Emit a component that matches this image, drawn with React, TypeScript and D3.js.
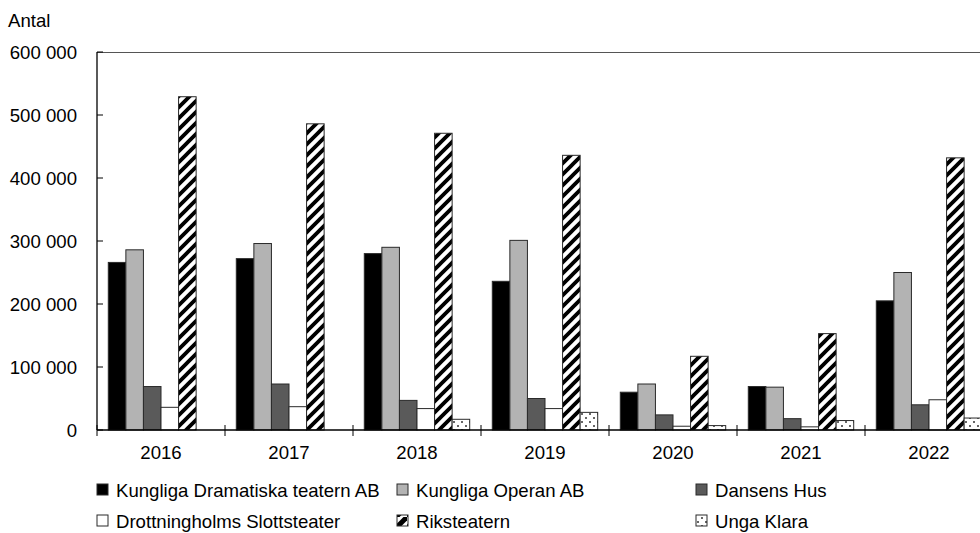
import React from "react";
import * as d3 from "d3";

const years = ["2016", "2017", "2018", "2019", "2020", "2021", "2022"];
const seriesNames = [
  "Kungliga Dramatiska teatern AB",
  "Kungliga Operan AB",
  "Dansens Hus",
  "Drottningholms Slottsteater",
  "Riksteatern",
  "Unga Klara",
];
const dramaten = [266000, 272000, 280000, 236000, 60000, 69000, 205000];
const operan = [286000, 296000, 290000, 301000, 73000, 68000, 250000];
const dansensHus = [69000, 73000, 47000, 50000, 24000, 18000, 40000];
const drottningholm = [36000, 37000, 34000, 34000, 6000, 5000, 48000];
const riksteatern = [529000, 486000, 471000, 436000, 117000, 153000, 432000];
const ungaKlara = [null, null, 17000, 28000, 7000, 15000, 19000];
const yTicks = [0, 100000, 200000, 300000, 400000, 500000, 600000];

const seriesValues = [dramaten, operan, dansensHus, drottningholm, riksteatern, ungaKlara];
const fills = ["#000000", "#b3b3b3", "#5a5a5a", "#ffffff", "url(#stripes)", "url(#dots)"];

const W = 980;
const H = 533;
const left = 97;
const top = 52;
const bottom = 430;
const right = 993;
const FONT = "'Liberation Sans', Arial, sans-serif";
const FS = 18.6;

const locale = d3.formatLocale({ decimal: ",", thousands: " ", grouping: [3], currency: ["", ""] });
const fmt = locale.format(",");

export default function App() {
  const x0 = d3.scaleBand<string>().domain(years).range([left, right]).padding(0);
  const x1 = d3
    .scaleBand<string>()
    .domain(seriesNames)
    .range([0, x0.bandwidth()])
    .paddingInner(0)
    .paddingOuter(0.643);
  const y = d3.scaleLinear().domain([0, 600000]).range([bottom, top]);

  const legendCols = [97, 397, 696];
  const legendRows = [490, 521];

  return (
    <svg
      width={W}
      height={H}
      style={{ position: "absolute", left: 0, top: 0, background: "#fff" }}
      fontFamily={FONT}
    >
      <defs>
        <pattern id="stripes" patternUnits="userSpaceOnUse" width={11} height={11}>
          <rect width={11} height={11} fill="#fff" />
          <path d="M-3,3 L3,-3 M0,11 L11,0 M8,14 L14,8" stroke="#000" strokeWidth={3.8} />
        </pattern>
        <pattern id="dots" patternUnits="userSpaceOnUse" width={8} height={8}>
          <rect width={8} height={8} fill="#fff" />
          <circle cx={2} cy={2} r={1} fill="#333" />
          <circle cx={6} cy={6} r={1} fill="#333" />
        </pattern>
        <pattern id="stripesLegend" patternUnits="userSpaceOnUse" width={11} height={11}>
          <rect width={11} height={11} fill="#fff" />
          <path d="M-2,13 L13,-2" stroke="#000" strokeWidth={5} />
        </pattern>
      </defs>

      <text x={8} y={27} fontSize={FS} fill="#000">Antal</text>

      {/* top border */}
      <line x1={left} x2={right} y1={top + 0.5} y2={top + 0.5} stroke="#555" strokeWidth={1.2} />

      {/* y ticks & labels */}
      {yTicks.map((t) => (
        <g key={t}>
          <line x1={left} x2={left + 6} y1={y(t)} y2={y(t)} stroke="#000" strokeWidth={1} />
          <text x={77} y={y(t)} fontSize={FS} textAnchor="end" dominantBaseline="central" fill="#000">
            {fmt(t)}
          </text>
        </g>
      ))}

      {/* bars */}
      {years.map((yr, i) => (
        <g key={yr}>
          {seriesNames.map((s, j) => {
            const v = seriesValues[j][i];
            if (v == null) return null;
            const bx = (x0(yr) as number) + (x1(s) as number);
            return (
              <rect
                key={s}
                x={bx}
                y={y(v)}
                width={x1.bandwidth()}
                height={bottom - y(v)}
                fill={fills[j]}
                stroke="#2a2a2a"
                strokeWidth={1}
              />
            );
          })}
        </g>
      ))}

      {/* axes */}
      <line x1={left} x2={left} y1={top} y2={bottom} stroke="#000" strokeWidth={1.3} />
      <line x1={left} x2={right} y1={bottom} y2={bottom} stroke="#000" strokeWidth={1.3} />
      {years.map((yr) => (
        <line
          key={"t" + yr}
          x1={x0(yr) as number}
          x2={x0(yr) as number}
          y1={bottom - 5}
          y2={bottom + 6}
          stroke="#000"
          strokeWidth={1}
        />
      ))}
      {years.map((yr) => (
        <text
          key={"l" + yr}
          x={(x0(yr) as number) + x0.bandwidth() / 2}
          y={452}
          fontSize={FS}
          textAnchor="middle"
          dominantBaseline="central"
          fill="#000"
        >
          {yr}
        </text>
      ))}

      {/* legend */}
      {seriesNames.map((s, j) => {
        const lx = legendCols[j % 3];
        const ly = legendRows[Math.floor(j / 3)];
        return (
          <g key={"lg" + s}>
            <rect
              x={lx}
              y={ly - 6}
              width={11}
              height={11}
              fill={j === 4 ? "url(#stripesLegend)" : fills[j]}
              stroke="#2a2a2a"
              strokeWidth={1}
            />
            <text x={lx + 19} y={ly} fontSize={FS} dominantBaseline="central" fill="#000">
              {s}
            </text>
          </g>
        );
      })}
    </svg>
  );
}
